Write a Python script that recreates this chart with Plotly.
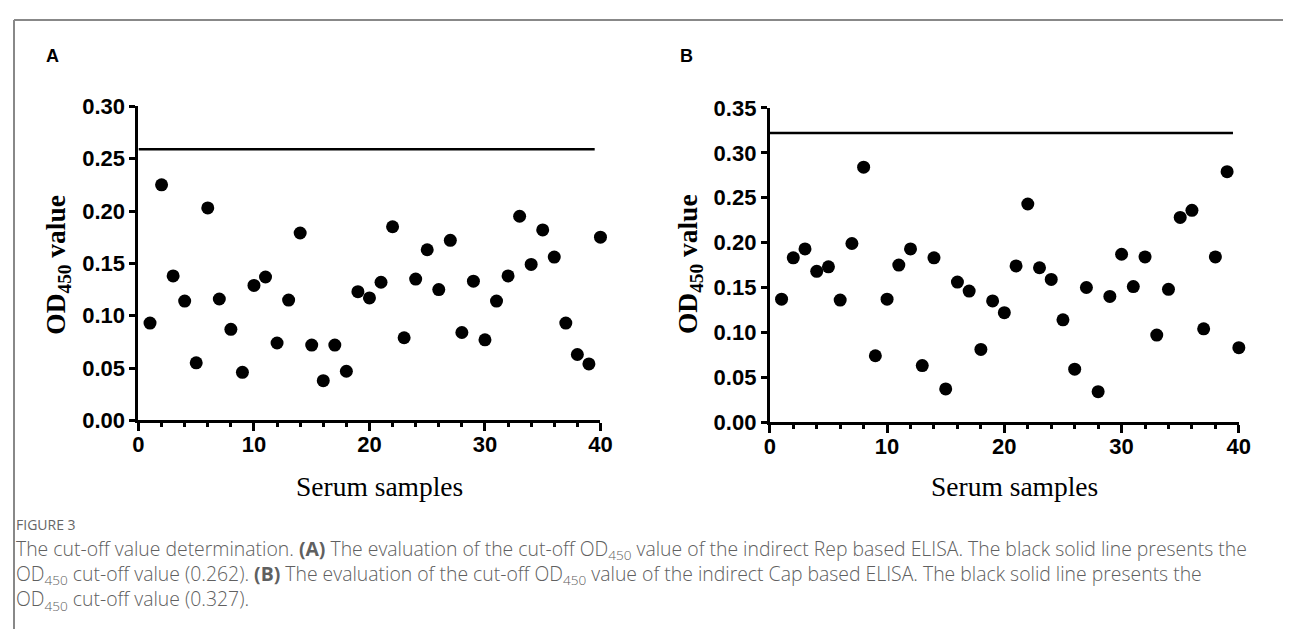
import plotly.graph_objects as go

# ---------------- data ----------------
samples = list(range(1, 41))

rep_od450 = [0.093, 0.225, 0.138, 0.114, 0.055, 0.203, 0.116, 0.087, 0.046, 0.129,
             0.137, 0.074, 0.115, 0.179, 0.072, 0.038, 0.072, 0.047, 0.123, 0.117,
             0.132, 0.185, 0.079, 0.135, 0.163, 0.125, 0.172, 0.084, 0.133, 0.077,
             0.114, 0.138, 0.195, 0.149, 0.182, 0.156, 0.093, 0.063, 0.054, 0.175]

cap_od450 = [0.137, 0.183, 0.193, 0.168, 0.173, 0.136, 0.199, 0.284, 0.074, 0.137,
             0.175, 0.193, 0.063, 0.183, 0.037, 0.156, 0.146, 0.081, 0.135, 0.122,
             0.174, 0.243, 0.172, 0.159, 0.114, 0.059, 0.150, 0.034, 0.140, 0.187,
             0.151, 0.184, 0.097, 0.148, 0.228, 0.236, 0.104, 0.184, 0.279, 0.083]

rep_cutoff_y = [0.259, 0.259]
cap_cutoff_y = [0.322, 0.322]
cutoff_x = [0, 39.5]

panel_labels = ["A", "B"]
x_title = "Serum samples"
y_title = "OD<sub>450</sub> value"
caption_head = "FIGURE 3"
caption_lines = [
    "The cut-off value determination. <b>(A)</b> The evaluation of the cut-off OD<sub>450</sub> value of the indirect Rep based ELISA. The black solid line presents the",
    "OD<sub>450</sub> cut-off value (0.262). <b>(B)</b> The evaluation of the cut-off OD<sub>450</sub> value of the indirect Cap based ELISA. The black solid line presents the",
    "OD<sub>450</sub> cut-off value (0.327).",
]

# ---------------- layout helpers ----------------
# target positions are given in screenshot pixels; convert to figure pixels
SX, SY = 0.984, 0.956
OX, OY = 14.8, 20.8
W, H = 1297, 636


def fx(R):
    return (R - OX) / SX


def fy(R):
    return (R - OY) / SY


def px_x(R):
    return min(max(fx(R) / W, 0), 1)


def px_y(R):
    return min(max(1 - fy(R) / H, 0), 1)


fig = go.Figure()

marker = dict(color="black", size=13)
fig.add_trace(go.Scatter(x=samples, y=rep_od450, mode="markers", marker=marker,
                         xaxis="x", yaxis="y", cliponaxis=False, showlegend=False))
fig.add_trace(go.Scatter(x=cutoff_x, y=rep_cutoff_y, mode="lines",
                         line=dict(color="black", width=2.5),
                         xaxis="x", yaxis="y", showlegend=False))
fig.add_trace(go.Scatter(x=samples, y=cap_od450, mode="markers", marker=marker,
                         xaxis="x2", yaxis="y2", cliponaxis=False, showlegend=False))
fig.add_trace(go.Scatter(x=cutoff_x, y=cap_cutoff_y, mode="lines",
                         line=dict(color="black", width=2.5),
                         xaxis="x2", yaxis="y2", showlegend=False))

tickfont = dict(family="Liberation Sans, Arial", size=22, color="black", weight="bold")

xcommon = dict(range=[0, 40], dtick=10, tick0=0, ticks="outside", ticklen=8, tickwidth=2.5,
               tickcolor="black", showline=True, linewidth=3, linecolor="black",
               showgrid=False, zeroline=False, tickfont=tickfont, ticklabelstandoff=-6,
               minor=dict(dtick=2, ticks="outside", ticklen=4, tickwidth=2.5, tickcolor="black"),
               fixedrange=True)
ycommon = dict(dtick=0.05, tick0=0, ticks="outside", ticklen=6, tickwidth=2.5,
               tickcolor="black", showline=True, linewidth=3, linecolor="black",
               showgrid=False, zeroline=False, tickfont=tickfont, tickformat=".2f",
               fixedrange=True)

fig.update_layout(
    width=W, height=H,
    margin=dict(l=0, r=0, t=0, b=0),
    paper_bgcolor="white", plot_bgcolor="white",
    xaxis=dict(domain=[px_x(139), px_x(600)], anchor="y", **xcommon),
    yaxis=dict(domain=[px_y(419.3), px_y(106.7)], range=[0, 0.30], anchor="x", **ycommon),
    xaxis2=dict(domain=[px_x(769), px_x(1237)], anchor="y2", **xcommon),
    yaxis2=dict(domain=[px_y(421), px_y(108.3)], range=[0, 0.35], anchor="x2", **ycommon),
)

ann = []
# panel labels
for lab, xp in zip(panel_labels, [53, 686]):
    ann.append(dict(text=lab, x=px_x(xp), y=px_y(57), xref="paper", yref="paper",
                    showarrow=False, xanchor="center", yanchor="middle",
                    font=dict(family="Liberation Sans, Arial", size=18, color="black", weight="bold")))
# y titles
for xp in [58, 689]:
    ann.append(dict(text=y_title, x=px_x(xp), y=px_y(264), xref="paper", yref="paper",
                    showarrow=False, textangle=-90, xanchor="center", yanchor="middle",
                    font=dict(family="Liberation Serif, Times New Roman", size=27.5, color="black",
                              weight="bold")))
# x titles
for xp in [380, 1013]:
    ann.append(dict(text=x_title, x=px_x(xp), y=px_y(485), xref="paper", yref="paper",
                    showarrow=False, xanchor="center", yanchor="middle",
                    font=dict(family="Liberation Serif, Times New Roman", size=27.5, color="black")))
# caption
ann.append(dict(text=caption_head, x=px_x(10), y=px_y(523), xref="paper", yref="paper",
                showarrow=False, xanchor="left", yanchor="middle",
                font=dict(family="Open Sans", size=14, color="#666666")))
ann.append(dict(text="<br>".join(caption_lines), x=px_x(10), y=px_y(573), xref="paper", yref="paper",
                showarrow=False, xanchor="left", yanchor="middle", align="left",
                font=dict(family="Open Sans", size=19.4, color="#606060", weight=300)))
fig.update_layout(annotations=ann)

# frame lines (as close to the top-left corner as the page allows)
fig.add_shape(type="line", xref="paper", yref="paper", x0=px_x(7), x1=1, y0=px_y(8.5), y1=px_y(8.5),
              line=dict(color="#888888", width=2))
fig.add_shape(type="line", xref="paper", yref="paper", x0=px_x(7), x1=px_x(7), y0=px_y(8.5), y1=0,
              line=dict(color="#888888", width=2))

fig.write_html("out.html")
